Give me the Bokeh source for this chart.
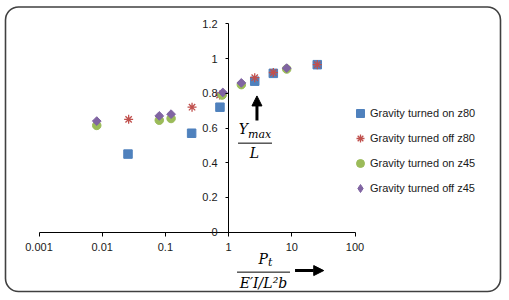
from bokeh.plotting import figure
from bokeh.models import (Range1d, FixedTicker, CustomJSTickFormatter, Legend,
                          LegendItem, Label, Arrow, NormalHead, BoxAnnotation)
from bokeh.embed import file_html
from bokeh.resources import INLINE
import numpy as np

# ---- data ----
x_on80 = [0.0256, 0.26, 0.73, 2.59, 5.1, 25.3]
y_on80 = [0.45, 0.57, 0.72, 0.87, 0.915, 0.965]
x_off80 = [0.0262, 0.264, 0.72, 2.59, 5.1, 25.3]
y_off80 = [0.65, 0.72, 0.79, 0.89, 0.92, 0.965]
x_on45 = [0.0082, 0.080, 0.123, 0.79, 1.59, 8.3]
y_on45 = [0.615, 0.645, 0.655, 0.79, 0.85, 0.94]
x_off45 = [0.0082, 0.080, 0.123, 0.81, 1.59, 8.3]
y_off45 = [0.64, 0.67, 0.68, 0.805, 0.86, 0.945]

series_names = ["Gravity turned on z80", "Gravity turned off z80",
                "Gravity turned on z45", "Gravity turned off z45"]
x_ticks = [0.001, 0.01, 0.1, 1, 10, 100]
y_ticks = [0, 0.2, 0.4, 0.6, 0.8, 1.0, 1.2]

BLUE, RED, GREEN, PURPLE = "#4F81BD", "#C0504D", "#9BBB59", "#8064A2"
FONT = "Liberation Sans"
MATH = "DejaVu Serif"

W, H = 504, 295
# frame covers the whole canvas; axes are drawn inside it at x=1 / y=0
XPX0, DEC = 38.5, 63.2       # pixel of 0.001, pixels per decade
YPX0, UNIT = 231.7, 173.6    # pixel of y=0, pixels per unit
x_lo = 10 ** (-3 - XPX0 / DEC)
x_hi = 10 ** (-3 + (W - XPX0) / DEC)
y_hi = YPX0 / UNIT
y_lo = (YPX0 - H) / UNIT

p = figure(width=W, height=H, x_axis_type="log",
           x_range=Range1d(x_lo, x_hi), y_range=Range1d(y_lo, y_hi),
           output_backend="svg", toolbar_location=None,
           min_border_left=0, min_border_right=0,
           min_border_top=0, min_border_bottom=0)
p.outline_line_color = None
p.xgrid.visible = False
p.ygrid.visible = False
p.background_fill_color = "white"
p.border_fill_color = "white"

# rounded chart-area border
p.add_layout(BoxAnnotation(left=5, right=500, top=H - 6.5, bottom=H - 291,
                           left_units="screen", right_units="screen",
                           top_units="screen", bottom_units="screen",
                           fill_color=None, fill_alpha=0,
                           line_color="#404040", line_alpha=1,
                           line_width=1.6, border_radius=13))

# axes crossing at x=1, y=0
xa = p.xaxis[0]
ya = p.yaxis[0]
xa.fixed_location = 0
ya.fixed_location = 1
xa.bounds = (x_ticks[0], x_ticks[-1])
ya.bounds = (y_ticks[0], y_ticks[-1])
xa.ticker = FixedTicker(ticks=x_ticks)
ya.ticker = FixedTicker(ticks=y_ticks)
xa.formatter = CustomJSTickFormatter(code="return String(Number(tick.toPrecision(1)));")
ya.formatter = CustomJSTickFormatter(code=r"return tick.toFixed(1).replace(/\.0$/, '');")
for ax in (xa, ya):
    ax.axis_line_color = "black"
    ax.axis_line_width = 1
    ax.major_tick_line_color = "black"
    ax.major_tick_in = 0
    ax.minor_tick_line_color = None
    ax.major_label_text_font = FONT
    ax.major_label_text_font_size = "11px"
    ax.major_label_text_color = "#1a1a1a"
xa.major_tick_out = 4
ya.major_tick_out = 3
xa.major_label_standoff = 7
ya.major_label_standoff = 8

r1 = p.scatter(x_on80, y_on80, marker="square", size=8.5, fill_color=BLUE, line_color=BLUE)
r2 = p.scatter(x_off80, y_off80, marker="asterisk", size=9, line_color=RED, line_width=1.3)
r3 = p.scatter(x_on45, y_on45, marker="circle", size=8.5, fill_color=GREEN, line_color=GREEN)
r4 = p.scatter(x_off45, y_off45, marker="square", angle=np.pi / 4, size=6.2,
               fill_color=PURPLE, line_color=PURPLE)
# legend stand-in for the rotated-square (diamond) series (nothing drawn in plot)
r4_key = p.scatter([float("nan")], [float("nan")], marker="diamond", size=7.5,
                   fill_color=PURPLE, line_color=PURPLE)

legend = Legend(items=[LegendItem(label=n, renderers=[r]) for n, r in
                       zip(series_names, [r1, r2, r3, r4_key])],
                location=(350, H - 197.7), padding=0, margin=0, spacing=5,
                glyph_width=20, glyph_height=20, label_standoff=0,
                label_text_font=FONT, label_text_font_size="11px",
                label_text_color="#1a1a1a",
                background_fill_alpha=0, border_line_color=None)
p.add_layout(legend, "center")


def lab(x, y, text, size, align="center"):
    p.add_layout(Label(x=x, y=y, text=text, text_font=MATH,
                       text_font_style="italic", text_font_size=size,
                       text_align=align, text_baseline="middle",
                       text_color="black"))


# y-label fraction  Y_max / L with arrow
lab(2.03, 0.597, "Y", "14px", "right")
lab(2.03, 0.563, "max", "11px", "left")
p.add_layout(Arrow(x_start=1.41, y_start=0.513, x_end=4.86, y_end=0.513,
                   end=None, line_width=1, line_color="black"))
lab(2.57, 0.457, "L", "14px")
p.add_layout(Arrow(x_start=2.81, y_start=0.643, x_end=2.81, y_end=0.785,
                   line_width=3, line_color="black",
                   end=NormalHead(size=10, fill_color="black", line_color="black")))

# x-label fraction  P_t / (E'I/L^2 b) with arrow
lab(4.2, -0.1515, "P", "14px", "right")
lab(4.2, -0.175, "t", "11px", "left")
p.add_layout(Arrow(x_start=1.36, y_start=-0.230, x_end=9.37, y_end=-0.230,
                   end=None, line_width=1, line_color="black"))
lab(3.56, -0.291, "E\u2032I/L\u00b2b", "14px")
p.add_layout(Arrow(x_start=11.25, y_start=-0.221, x_end=32.0, y_end=-0.221,
                   line_width=3, line_color="black",
                   end=NormalHead(size=10, fill_color="black", line_color="black")))

open("out.html", "w").write(file_html(p, INLINE))
